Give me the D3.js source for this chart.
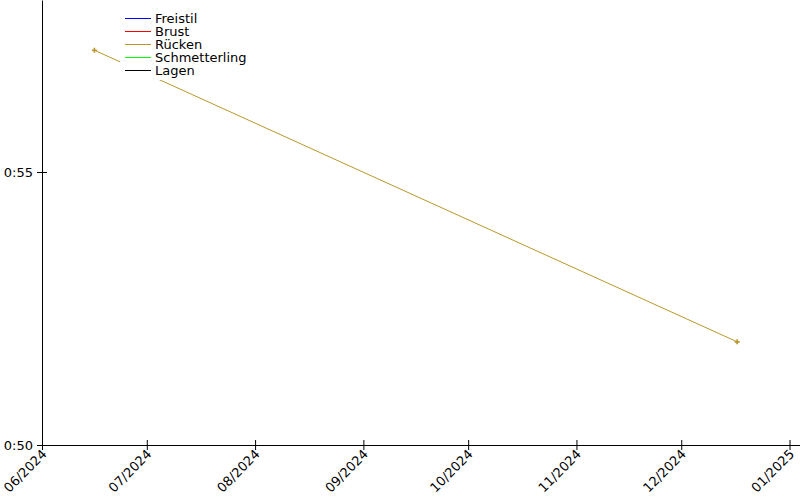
<!DOCTYPE html>
<html><head><meta charset="utf-8">
<script src="https://cdn.jsdelivr.net/npm/d3@7"></script>
<style>body{margin:0;background:#fff}svg{display:block;font-family:"DejaVu Sans",sans-serif}</style>
</head><body><svg id="c" width="800" height="500"></svg>
<script>
const seriesNames = ["Freistil","Brust","Rücken","Schmetterling","Lagen"];
const seriesColors = ["#0000ff","#ff0000","#b8982c","#00ff00","#000000"];
const rueckenDates = ["2024-06-16","2024-12-17"];
const rueckenTimes = [57.23, 51.89];
const yTicks = [50, 55];
const xTickDates = ["2024-06-01","2024-07-01","2024-08-01","2024-09-01","2024-10-01","2024-11-01","2024-12-01","2025-01-01"];

const svg = d3.select("#c");
const parse = d3.utcParse("%Y-%m-%d");
const x = d3.scaleUtc().domain([parse("2024-06-01"), parse("2025-01-04")]).range([42, 800]);
const y = d3.scaleLinear().domain([50, 58.15]).range([445, 0]);
const fmtT = s => Math.floor(s/60) + ":" + String(Math.round(s%60)).padStart(2,"0");

const pts = rueckenDates.map((d,i)=>({d:parse(d), v:rueckenTimes[i]}));
svg.append("path").datum(pts)
  .attr("fill","none").attr("stroke",seriesColors[2]).attr("stroke-width",1)
  .attr("d", d3.line().x(p=>x(p.d)).y(p=>y(p.v)));
svg.selectAll("path.pt").data(pts).enter().append("path").attr("class","pt")
  .attr("transform",p=>`translate(${x(p.d)},${y(p.v)})`)
  .attr("d", d3.symbol(d3.symbolCross, 14)())
  .attr("fill",seriesColors[2]);

const yAxis = svg.append("g").attr("transform","translate(42,0)")
  .call(d3.axisLeft(y).tickValues(yTicks).tickFormat(fmtT).tickSizeInner(5).tickSizeOuter(0));
yAxis.selectAll(".tick line").attr("x1",5);
const xAxis = svg.append("g").attr("transform","translate(0,445)")
  .call(d3.axisBottom(x).tickValues(xTickDates.map(parse)).tickFormat(d3.utcFormat("%m/%Y")).tickSizeInner(5).tickSizeOuter(0));
xAxis.selectAll(".tick line").attr("y1",-5);
[yAxis, xAxis].forEach(g=>{
  g.select(".domain").attr("stroke","#000");
  g.selectAll("text").attr("font-size",13).attr("fill","#000").attr("font-family","DejaVu Sans");
});
yAxis.selectAll("text").attr("x",-9).attr("dy","0.35em");
xAxis.selectAll("text").attr("text-anchor","end").attr("dy",0).attr("y",0)
  .attr("transform","translate(5,10) rotate(-45)");

const lg = svg.append("g");
lg.append("rect").attr("x",120).attr("y",10).attr("width",130).attr("height",70).attr("fill","#fff");
seriesNames.forEach((n,i)=>{
  const yy = 18 + i*13;
  lg.append("line").attr("x1",125).attr("x2",151).attr("y1",yy+0.5).attr("y2",yy+0.5)
    .attr("stroke",seriesColors[i]).attr("stroke-width",1);
  lg.append("text").attr("x",155).attr("y",yy).attr("dy","0.35em").attr("font-size",13)
    .attr("fill","#000").text(n);
});
</script></body></html>
